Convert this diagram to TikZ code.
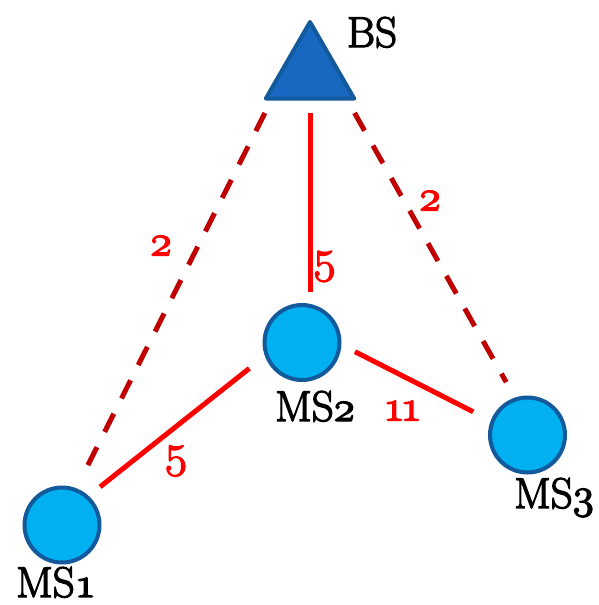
\RequirePackage{fix-cm}
\documentclass[tikz,border=0pt]{standalone}
\usetikzlibrary{shapes.geometric}
% old-style figures from the math italic font
\newcommand\osnum[1]{{\usefont{OML}{cmm}{m}{it}#1}}
% text drawn with fill and outline, giving heavier strokes
\newcommand\heavytext[2]{\special{pdf:literal direct 2 Tr #1 w}#2\special{pdf:literal direct 0 Tr}}
\definecolor{stationfill}{HTML}{00B0F0}
\definecolor{stationedge}{HTML}{135A9C}
\definecolor{basefill}{HTML}{1868C2}
\definecolor{linkred}{HTML}{FF0000}
\definecolor{weakred}{HTML}{C00000}
\begin{document}
\begin{tikzpicture}[x=1pt,y=-1pt,
  mobile/.style={circle,draw=stationedge,fill=stationfill,line width=4pt,
    minimum size=75pt,inner sep=0pt,outer sep=0pt},
  base/.style={regular polygon,regular polygon sides=3,draw=stationedge,
    fill=basefill,line width=4pt,line join=round,minimum size=102pt,
    inner sep=0pt,outer sep=0pt},
  stationname/.style={font=\fontsize{43}{48}\selectfont,inner sep=0pt,anchor=base},
  weight/.style={text=linkred,font=\fontsize{44}{48}\selectfont,inner sep=0pt},
  strong/.style={draw=linkred,line width=5pt},
  weak/.style={draw=weakred,line width=5pt,dash pattern=on 20.3pt off 17.1pt}]
\useasboundingbox (0,0) rectangle (599,605);

% stations
\node[base] (bs) at (310,73) {};
\node[mobile] (ms1) at (62,525) {};
\node[mobile] (ms2) at (302,342.5) {};
\node[mobile] (ms3) at (527.5,435) {};

% links
\draw[strong,shorten <=14.5pt,shorten >=13pt] (bs.south) -- (bs.south |- ms2.north);
\draw[weak,shorten <=16.2pt,shorten >=27.8pt] (bs.214) -- (ms1.69);
\draw[weak,shorten <=16.6pt,shorten >=19.7pt] (bs.325) -- (ms3.108);
\draw[strong,shorten <=22pt,shorten >=16.6pt] (ms2.199) -- (ms1.48);
\draw[strong,shorten <=17.4pt,shorten >=21.6pt] (ms2.358) -- (ms3.159);

% station names
\node[stationname] (bsname) at (372,47) {\heavytext{1.3}{BS}};
\node[stationname] (ms1name) at (56,597) {\heavytext{1.3}{MS\osnum{1}}};
\node[stationname] (ms2name) at (315,421) {\heavytext{1.3}{MS\osnum{2}}};
\node[stationname] (ms3name) at (554,508) {\heavytext{1.3}{MS\osnum{3}}};

% link weights
\node[weight] (wleft) at (161,246) {\heavytext{1.3}{\osnum{2}}};
\node[weight] (wright) at (430,201) {\heavytext{1.3}{\osnum{2}}};
\node[weight,font=\fontsize{47}{50}\selectfont] (wmid) at (324.5,266.5) {\heavytext{1.1}{\osnum{5}}};
\node[weight,font=\fontsize{47}{50}\selectfont] (wlow) at (176,461) {\heavytext{1.1}{\osnum{5}}};
\node[weight] (wside) at (402.5,411) {\heavytext{1.3}{\osnum{1}\kern-0.1em\osnum{1}}};
\end{tikzpicture}
\end{document}
